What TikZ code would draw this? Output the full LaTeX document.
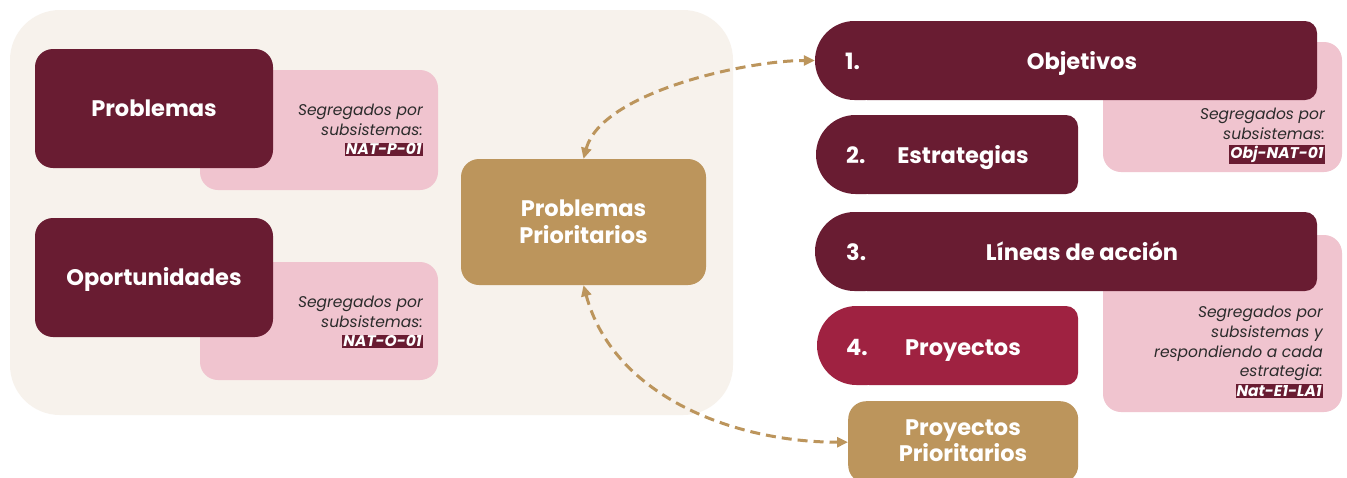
\documentclass[tikz,border=0pt]{standalone}
\usepackage{fontspec}
\setmainfont{Poppins}
\usetikzlibrary{arrows.meta}
\definecolor{guinda}{HTML}{691C32}
\definecolor{guindaclaro}{HTML}{9F2241}
\definecolor{dorado}{HTML}{BC955C}
\definecolor{rosa}{HTML}{F0C4CF}
\definecolor{crema}{HTML}{F7F2EC}
\definecolor{texto}{HTML}{2B2B2B}
\newcommand\codehl[1]{{\setlength{\fboxsep}{1pt}\colorbox{guinda}{\textcolor{white}{\bfseries\itshape #1}}}}
\begin{document}
\begin{tikzpicture}[x=1pt,y=-1pt,
  bigtxt/.style={text=white, font=\bfseries\fontsize{22.5}{27}\selectfont, align=center, inner sep=0},
  lbl/.style={bigtxt, anchor=base},
  darkbox/.style={fill=guinda, rounded corners=18pt, inner sep=0},
  goldbox/.style={bigtxt, fill=dorado, rounded corners=18pt},
  pinkbox/.style={fill=rosa, rounded corners=18pt},
  area/.style={draw=none, inner sep=0},
  note/.style={text=texto, font=\itshape\fontsize{15.5}{19.6}\selectfont, align=right, anchor=east, inner sep=0},
  link/.style={dorado, line width=3pt, dash pattern=on 10pt off 6pt,
    {Triangle[length=11pt,width=10pt]}-{Triangle[length=11pt,width=10pt]}},
]
\useasboundingbox (0,0) rectangle (1347,477);
\clip (0,0) rectangle (1347,477);
\fill[white] (0,0) rectangle (1347,477);
% background panel
\fill[crema, rounded corners=50pt] (10,10) rectangle (733,415);

% left column
\fill[pinkbox] (200,70) rectangle (438,190);
\node[darkbox, minimum width=238pt, minimum height=119pt] (prob) at (154,108.5) {};
\node[lbl] (probt) at (154,116.5) {Problemas};
\node[note] (probnote) at (423,130) {Segregados por\\subsistemas:\\\codehl{NAT-P-01}};

\fill[pinkbox] (200,262) rectangle (438,380);
\node[darkbox, minimum width=238pt, minimum height=119pt] (opor) at (154,277.5) {};
\node[lbl] (oport) at (154,285) {Oportunidades};
\node[note] (opornote) at (423,322) {Segregados por\\subsistemas:\\\codehl{NAT-O-01}};

\node[goldbox, minimum width=245pt, minimum height=126pt] (pp) at (583.5,222) {Problemas\\Prioritarios};

% right column
\fill[pinkbox] (1103,42) rectangle (1342,172);
\fill[pinkbox] (1103,235) rectangle (1342,412);

% Objetivos
\fill[guinda, rounded corners=12pt] (855,21) rectangle (1317,100);
\fill[guinda, rounded corners=39.5pt] (815,21) rectangle (905,100);
\node[area, minimum width=502pt, minimum height=79pt] (obj) at (1066,60.5) {};
\node[lbl, anchor=base west] (objn) at (845,69) {1.};
\node[lbl] (objt) at (1082,69) {Objetivos};
\node[note] (objnote) at (1325,136) {Segregados por\\subsistemas:\\\codehl{Obj-NAT-01}};

% Estrategias
\fill[guinda, rounded corners=12pt] (856,115) rectangle (1078,194);
\fill[guinda, rounded corners=39.5pt] (816,115) rectangle (906,194);
\node[area, minimum width=262pt, minimum height=79pt] (est) at (947,154.5) {};
\node[lbl, anchor=base west] (estn) at (846,163) {2.};
\node[lbl] (estt) at (963,163) {Estrategias};

% Lineas de accion
\fill[guinda, rounded corners=12pt] (855,212) rectangle (1317,291);
\fill[guinda, rounded corners=39.5pt] (815,212) rectangle (905,291);
\node[area, minimum width=502pt, minimum height=79pt] (lin) at (1066,251.5) {};
\node[lbl, anchor=base west] (linn) at (846,260) {3.};
\node[lbl] (lint) at (1082,260) {Líneas de acción};
\node[note] (linnote) at (1323,352) {Segregados por\\subsistemas y\\respondiendo a cada\\estrategia:\\\codehl{Nat-E1-LA1}};

% Proyectos
\fill[guindaclaro, rounded corners=12pt] (857,306) rectangle (1078,385);
\fill[guindaclaro, rounded corners=39.5pt] (817,306) rectangle (907,385);
\node[area, minimum width=261pt, minimum height=79pt] (proy) at (947.5,345.5) {};
\node[lbl, anchor=base west] (proyn) at (846,355) {4.};
\node[lbl] (proyt) at (963,355) {Proyectos};

% Proyectos prioritarios
\node[goldbox, minimum width=230pt, minimum height=82pt, anchor=north west] (pprio) at (848,401) {};
\node[bigtxt] (ppriot) at (963,441) {Proyectos\\[-1pt]Prioritarios};

% connectors
\draw[link] (pp.north) to[out=75,in=180,looseness=0.7] (obj.west);
\draw[link] (pp.south) to[out=-75,in=180,looseness=0.95] (pprio.west);
\end{tikzpicture}
\end{document}
